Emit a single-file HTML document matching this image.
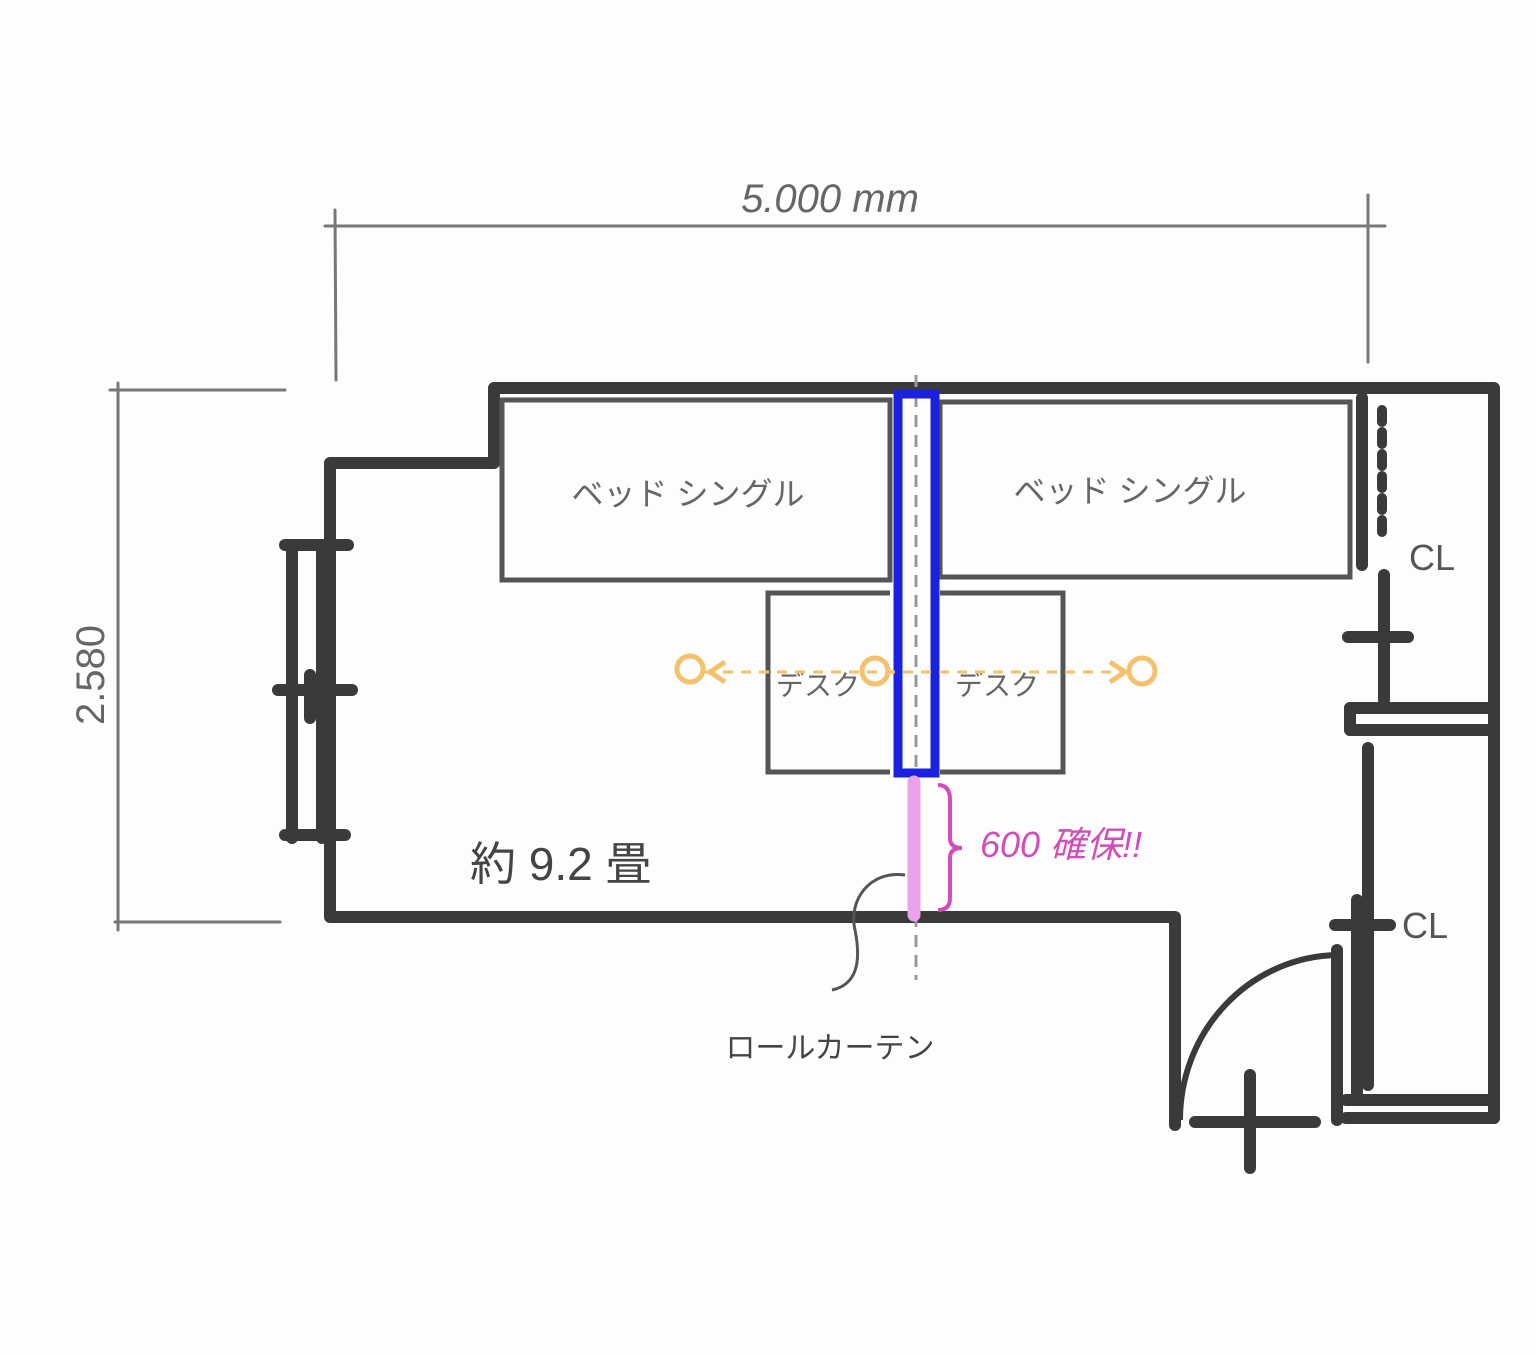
<!DOCTYPE html>
<html><head><meta charset="utf-8"><style>
html,body{margin:0;padding:0;background:#fdfdfd;}
svg{display:block;}
text{font-family:"Liberation Sans","Noto Sans CJK JP",sans-serif;}
</style></head><body>
<svg width="1536" height="1356" viewBox="0 0 1536 1356" xmlns="http://www.w3.org/2000/svg">
<rect width="1536" height="1356" fill="#fdfdfd"/>
<g stroke="#777" stroke-width="3" fill="none" stroke-linecap="round">
<line x1="325" y1="226" x2="1385" y2="226"/>
<line x1="335" y1="210" x2="336" y2="380"/>
<line x1="1368" y1="195" x2="1368" y2="362"/>
<line x1="118" y1="383" x2="118" y2="930"/>
<line x1="110" y1="390" x2="285" y2="390"/>
<line x1="115" y1="922" x2="280" y2="922"/>
</g>
<text x="830" y="212" font-size="40" fill="#666" text-anchor="middle" font-style="italic">5.000 mm</text>
<text x="0" y="0" font-size="40" fill="#666" text-anchor="middle" transform="translate(104,675) rotate(-90)">2.580</text>
<!-- walls -->
<g stroke="#3a3a3a" stroke-width="12" fill="none" stroke-linecap="round" stroke-linejoin="round">
<polyline points="1175,1125 1175,917 330,917 330,463 494,463 494,388 1494,388 1494,1118"/>
<line x1="1346" y1="1100" x2="1494" y2="1100"/>
<line x1="1346" y1="1118" x2="1494" y2="1118"/>
<line x1="1350" y1="708" x2="1494" y2="708"/>
<line x1="1350" y1="730" x2="1494" y2="730"/>
<line x1="1350" y1="708" x2="1350" y2="730"/>
<line x1="1362" y1="398" x2="1362" y2="565"/>
<line x1="1384" y1="575" x2="1384" y2="700"/>
<line x1="1348" y1="637" x2="1408" y2="637"/>
<line x1="1368" y1="748" x2="1368" y2="1085"/>
<line x1="1357" y1="900" x2="1357" y2="1100"/>
<line x1="1335" y1="925" x2="1390" y2="925"/>
<line x1="1337" y1="950" x2="1337" y2="1120"/>
<line x1="1250" y1="1075" x2="1250" y2="1168"/>
<line x1="1195" y1="1122" x2="1315" y2="1122"/>
<line x1="292" y1="545" x2="292" y2="838"/>
<line x1="322" y1="545" x2="322" y2="838"/>
<line x1="285" y1="545" x2="348" y2="545"/>
<line x1="278" y1="690" x2="352" y2="690"/>
<line x1="285" y1="835" x2="345" y2="835"/>
<line x1="310" y1="675" x2="310" y2="718"/>
</g>
<line x1="1382" y1="410" x2="1382" y2="540" stroke="#3a3a3a" stroke-width="10" stroke-dasharray="12,10" stroke-linecap="round"/>
<path d="M1180,1120 A160,165 0 0 1 1337,955" stroke="#3a3a3a" stroke-width="6" fill="none"/>
<text x="1432" y="570" font-size="36" fill="#555" text-anchor="middle">CL</text>
<text x="1425" y="938" font-size="36" fill="#555" text-anchor="middle">CL</text>
<!-- furniture -->
<g stroke="#555" stroke-width="5" fill="none">
<rect x="502" y="400" width="388" height="180"/>
<rect x="940" y="402" width="410" height="175"/>
<polyline points="890,593 768,593 768,772 890,772"/>
<polyline points="940,593 1063,593 1063,772 940,772"/>
</g>
<text x="688" y="505" font-size="32" fill="#666" text-anchor="middle">ベッド シングル</text>
<text x="1130" y="502" font-size="32" fill="#666" text-anchor="middle">ベッド シングル</text>
<text x="818" y="695" font-size="28" fill="#666" text-anchor="middle">デスク</text>
<text x="997" y="695" font-size="28" fill="#666" text-anchor="middle">デスク</text>
<!-- partition -->
<line x1="916" y1="375" x2="916" y2="980" stroke="#999" stroke-width="3" stroke-dasharray="12,8"/>
<rect x="898" y="394" width="37" height="379" stroke="#1a22e0" stroke-width="9" fill="none"/>
<line x1="914" y1="782" x2="914" y2="915" stroke="#eaa2ea" stroke-width="13" stroke-linecap="round"/>
<path d="M938,785 Q950,785 950,800 L950,838 Q950,848 962,848 Q950,848 950,858 L950,898 Q950,910 938,910" stroke="#d24cbc" stroke-width="4" fill="none"/>
<text x="980" y="857" font-size="36" fill="#d24cbc" font-style="italic">600 確保!!</text>
<!-- orange arrow -->
<g stroke="#f4c26c" stroke-width="5" fill="none">
<line x1="705" y1="672" x2="1125" y2="672" stroke-dasharray="10,8" stroke-width="3"/>
<circle cx="690" cy="669" r="13"/>
<circle cx="875" cy="671" r="13"/>
<circle cx="1142" cy="671" r="13"/>
<polyline points="725,662 710,672 725,682"/>
<polyline points="1110,662 1125,672 1110,682"/>
</g>
<text x="470" y="880" font-size="46" fill="#444">約 9.2 畳</text>
<path d="M905,875 C870,870 848,900 855,930 C862,965 855,985 832,990" stroke="#555" stroke-width="3" fill="none"/>
<text x="830" y="1058" font-size="30" fill="#444" text-anchor="middle">ロールカーテン</text>
</svg>
</body></html>
